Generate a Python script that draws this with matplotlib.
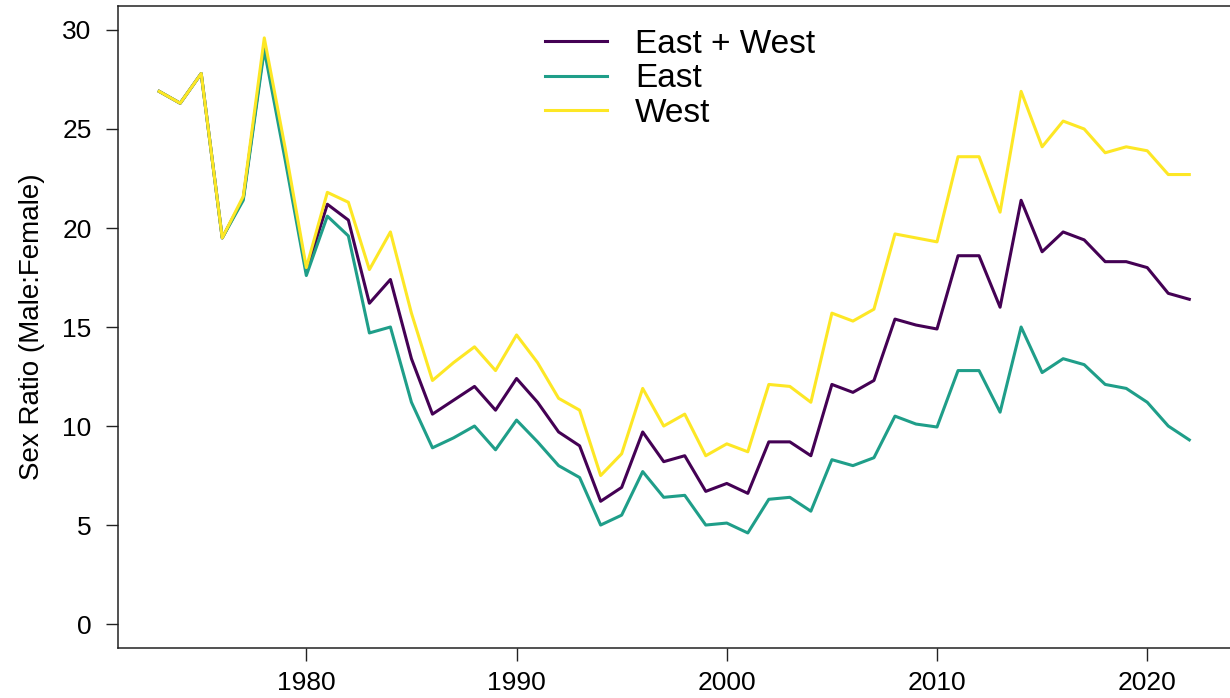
import matplotlib
matplotlib.use("Agg")
import matplotlib.pyplot as plt
import numpy as np

plt.rcParams['font.family'] = ['Liberation Sans', 'DejaVu Sans']

# data
years = list(range(1973, 2023))

east_west = [26.9, 26.3, 27.8, 19.5, 21.5, 29.2, 23.7, 17.8, 21.2, 20.4,
             16.2, 17.4, 13.4, 10.6, 11.3, 12.0, 10.8, 12.4, 11.2, 9.7,
             9.0, 6.2, 6.9, 9.7, 8.2, 8.5, 6.7, 7.1, 6.6, 9.2,
             9.2, 8.5, 12.1, 11.7, 12.3, 15.4, 15.1, 14.9, 18.6, 18.6,
             16.0, 21.4, 18.8, 19.8, 19.4, 18.3, 18.3, 18.0, 16.7, 16.4]

east = [26.9, 26.3, 27.8, 19.5, 21.4, 29.0, 23.4, 17.6, 20.6, 19.6,
        14.7, 15.0, 11.2, 8.9, 9.4, 10.0, 8.8, 10.3, 9.2, 8.0,
        7.4, 5.0, 5.5, 7.7, 6.4, 6.5, 5.0, 5.1, 4.6, 6.3,
        6.4, 5.7, 8.3, 8.0, 8.4, 10.5, 10.1, 9.95, 12.8, 12.8,
        10.7, 15.0, 12.7, 13.4, 13.1, 12.1, 11.9, 11.2, 10.0, 9.3]

west = [26.9, 26.3, 27.8, 19.5, 21.6, 29.6, 24.0, 18.0, 21.8, 21.3,
        17.9, 19.8, 15.7, 12.3, 13.2, 14.0, 12.8, 14.6, 13.2, 11.4,
        10.8, 7.5, 8.6, 11.9, 10.0, 10.6, 8.5, 9.1, 8.7, 12.1,
        12.0, 11.2, 15.7, 15.3, 15.9, 19.7, 19.5, 19.3, 23.6, 23.6,
        20.8, 26.9, 24.1, 25.4, 25.0, 23.8, 24.1, 23.9, 22.7, 22.7]

labels = ['East + West', 'East', 'West']
colors = ['#440154', '#1f9e89', '#FDE725']

fig = plt.figure(figsize=(12.3, 6.98), dpi=100)
ax = fig.add_axes([0.0959, 0.0719, 0.9045, 0.9192])

for vals, lab, col in zip([east_west, east, west], labels, colors):
    ax.plot(years, vals, color=col, lw=2.2, label=lab)

# R style limits (4% padding)
ax.set_xlim(1971.04, 2023.96)
ax.set_ylim(-1.2, 31.2)
ax.set_xticks([1980, 1990, 2000, 2010, 2020])
ax.set_yticks([0, 5, 10, 15, 20, 25, 30])

for s in ax.spines.values():
    s.set_color('#222222')
    s.set_linewidth(1.1)
ax.spines['right'].set_visible(False)

ax.tick_params(axis='both', direction='out', length=9, width=1.0,
               color='#222222', labelsize=19, pad=8)
ax.tick_params(axis='y', pad=10)

ax.set_ylabel('Sex Ratio (Male:Female)', fontsize=20)
ax.yaxis.set_label_coords(-0.066, 0.5)

leg = ax.legend(loc='upper left', bbox_to_anchor=(545 / 1230, 1 - 29 / 698),
                bbox_transform=fig.transFigure, frameon=False, fontsize=24,
                handlelength=1.85, handletextpad=0.85, labelspacing=0.1,
                borderpad=0, borderaxespad=0)

fig.savefig('out.png', dpi=100)
